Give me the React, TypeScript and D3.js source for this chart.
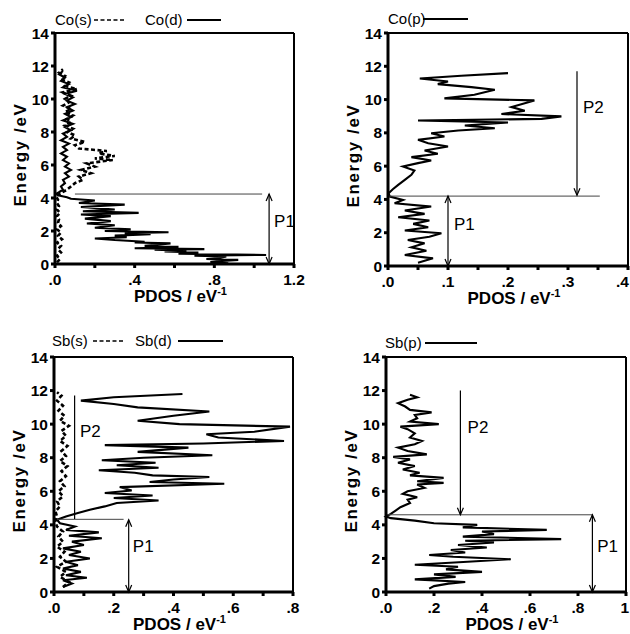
import React from 'react';
import * as d3 from 'd3';

// ---------- data: [energy (eV), PDOS (1/eV)] ----------
const energyTicks = [0, 2, 4, 6, 8, 10, 12, 14];

const coS: [number, number][] = [
  [0.1, .01], [0.3, .025], [0.5, .01], [0.7, .03], [0.9, .015], [1.1, .03], [1.3, .01], [1.5, .035], [1.7, .015], [1.9, .03],
  [2.1, .01], [2.3, .03], [2.5, .015], [2.7, .02], [2.9, .01], [3.1, .025], [3.3, .01], [3.5, .02], [3.7, .01], [3.9, .015],
  [4.1, .005], [4.3, .03], [4.5, .06], [4.7, .08], [4.9, .1], [5.1, .14], [5.3, .12], [5.5, .18], [5.7, .13], [5.9, .2],
  [6.1, .16], [6.3, .29], [6.4, .2], [6.55, .3], [6.7, .22], [6.85, .26], [7.0, .12], [7.2, .1], [7.4, .15], [7.6, .08],
  [7.8, .1], [8.0, .06], [8.2, .09], [8.4, .05], [8.6, .08], [8.8, .06], [9.0, .09], [9.2, .05], [9.4, .08], [9.6, .04],
  [9.8, .07], [10.0, .05], [10.2, .08], [10.4, .04], [10.6, .11], [10.8, .05], [11.0, .07], [11.2, .03], [11.4, .05], [11.6, .02], [11.8, .04],
];

const coD: [number, number][] = [
  [0.05, .87], [0.12, .78], [0.18, .84], [0.25, .92], [0.3, .76], [0.35, .82], [0.45, .86], [0.5, .7], [0.55, 1.06], [0.62, .62],
  [0.7, .72], [0.76, .55], [0.8, .66], [0.86, .5], [0.9, .75], [0.95, .4], [1.0, .55], [1.05, .62], [1.1, .45], [1.15, .5],
  [1.25, .58], [1.3, .4], [1.35, .45], [1.45, .3], [1.55, .2], [1.62, .36], [1.72, .3], [1.8, .48], [1.86, .35], [1.92, .57],
  [2.0, .25], [2.1, .38], [2.2, .2], [2.35, .3], [2.45, .16], [2.6, .28], [2.75, .15], [2.9, .28], [3.0, .13],
  [3.1, .42], [3.2, .14], [3.3, .3], [3.45, .13], [3.6, .35], [3.7, .12], [3.85, .2], [3.95, .08], [4.05, .06], [4.15, .02],
  [4.25, .005], [4.35, .02], [4.5, .04], [4.7, .03], [4.9, .05], [5.1, .04], [5.3, .07], [5.5, .05], [5.7, .08], [5.9, .05],
  [6.1, .07], [6.3, .04], [6.5, .06], [6.7, .03], [6.9, .06], [7.1, .04], [7.3, .07], [7.5, .03], [7.7, .06], [7.9, .04],
  [8.1, .08], [8.3, .05], [8.5, .09], [8.7, .04], [8.9, .08], [9.1, .05], [9.3, .09], [9.5, .06], [9.7, .1], [9.9, .06],
  [10.1, .09], [10.3, .05], [10.5, .11], [10.7, .04], [10.9, .07], [11.1, .03], [11.3, .05], [11.5, .02], [11.7, .04],
];

const coP: [number, number][] = [
  [0.2, .05], [0.46, .075], [0.66, .028], [0.92, .064], [1.12, .039], [1.36, .061], [1.56, .033], [1.76, .069], [1.97, .089], [2.13, .028],
  [2.33, .067], [2.53, .042], [2.73, .069], [2.93, .017], [3.13, .061], [3.33, .028], [3.57, .072], [3.77, .011], [3.97, .025], [4.17, .003],
  [4.37, .001], [4.61, .008], [4.87, .017], [5.17, .028], [5.48, .039], [5.74, .044], [5.98, .025], [6.18, .05], [6.34, .072], [6.54, .039],
  [6.74, .083], [6.94, .061], [7.18, .1], [7.38, .067], [7.58, .05], [7.78, .094], [7.98, .072], [8.14, .117], [8.28, .178], [8.44, .128],
  [8.62, .2], [8.74, .05], [8.84, .256], [8.99, .289], [9.13, .189], [9.33, .228], [9.55, .206], [9.95, .244], [10.07, .094], [10.29, .144],
  [10.59, .178], [10.75, .139], [10.93, .083], [11.09, .1], [11.27, .053], [11.43, .122], [11.59, .2],
];

const sbS: [number, number][] = [
  [0.3, .03], [0.6, .05], [0.9, .02], [1.2, .04], [1.5, .01], [1.8, .04], [2.1, .02], [2.4, .035], [2.7, .01], [3.0, .03],
  [3.3, .015], [3.6, .03], [3.9, .01], [4.2, .005], [4.5, .01], [4.8, .005], [5.1, .02], [5.4, .01], [5.7, .03], [6.0, .015],
  [6.3, .035], [6.6, .02], [6.9, .04], [7.2, .025], [7.5, .045], [7.8, .02], [8.1, .04], [8.4, .025], [8.7, .045], [9.0, .02],
  [9.3, .04], [9.6, .025], [9.9, .05], [10.2, .02], [10.5, .035], [10.8, .015], [11.1, .03], [11.4, .01], [11.7, .025], [11.9, .01],
];

const sbD: [number, number][] = [
  [0.3, .03], [0.5, .06], [0.7, .03], [0.85, .11], [1.0, .04], [1.2, .09], [1.4, .03], [1.6, .08], [1.8, .04], [2.0, .12],
  [2.2, .05], [2.4, .09], [2.6, .03], [2.8, .1], [3.0, .06], [3.2, .16], [3.35, .05], [3.55, .15], [3.7, .04], [3.9, .07],
  [4.1, .02], [4.3, .01], [4.5, .04], [4.7, .08], [4.9, .12], [5.1, .17], [5.3, .21], [5.45, .35], [5.6, .2], [5.75, .33],
  [5.9, .17], [6.05, .26], [6.25, .22], [6.45, .57], [6.55, .32], [6.7, .4], [6.85, .52], [6.95, .33], [7.1, .27], [7.25, .15],
  [7.4, .35], [7.55, .21], [7.7, .34], [7.85, .16], [8.0, .3], [8.15, .53], [8.35, .28], [8.6, .45], [8.75, .17], [8.85, .5],
  [9.0, .77], [9.2, .55], [9.4, .51], [9.55, .67], [9.85, .79], [10.0, .42], [10.2, .28], [10.5, .4], [10.75, .52], [11.0, .28],
  [11.2, .2], [11.4, .09], [11.6, .2], [11.8, .43],
];

const sbP: [number, number][] = [
  [0.2, .18], [0.35, .2], [0.5, .26], [0.6, .33], [0.75, .12], [0.9, .29], [1.05, .2], [1.2, .4], [1.35, .25], [1.5, .3],
  [1.62, .12], [1.8, .34], [1.95, .52], [2.1, .28], [2.2, .18], [2.35, .33], [2.5, .27], [2.65, .42], [2.8, .3], [2.95, .45],
  [3.05, .33], [3.15, .73], [3.3, .32], [3.45, .45], [3.6, .4], [3.7, .67], [3.85, .32], [4.0, .38], [4.1, .2], [4.25, .12],
  [4.4, .02], [4.5, .0], [4.65, .02], [4.85, .04], [5.05, .06], [5.3, .1], [5.5, .09], [5.65, .13], [5.85, .07], [6.0, .09],
  [6.2, .16], [6.4, .13], [6.5, .24], [6.6, .13], [6.8, .24], [6.95, .1], [7.1, .14], [7.3, .07], [7.5, .12], [7.7, .05],
  [7.9, .1], [8.05, .03], [8.2, .17], [8.4, .09], [8.6, .05], [8.8, .12], [9.0, .15], [9.2, .1], [9.45, .12], [9.7, .09],
  [9.85, .06], [10.0, .22], [10.15, .1], [10.35, .13], [10.55, .12], [10.7, .19], [10.85, .1], [11.05, .08], [11.25, .05], [11.45, .09],
  [11.6, .13], [11.75, .1],
];

// tick values per panel
const coSDMajor = [0, 0.4, 0.8, 1.2];
const coSDMinor = [0.2, 0.6, 1.0];
const coPMajor = [0, 0.1, 0.2, 0.3, 0.4];
const coPMinor = [0.05, 0.15, 0.25, 0.35];
const sbSDMajor = [0, 0.2, 0.4, 0.6, 0.8];
const sbSDMinor = [0.1, 0.3, 0.5, 0.7];
const sbPMajor = [0, 0.2, 0.4, 0.6, 0.8, 1];

// annotations (data units)
type HLine = { e: number; v0: number; v1: number };
type Arrow = { v: number; e0: number; e1: number; both: boolean; head: boolean };
type Label = { text: string; v: number; e: number };

const FONT = 'Liberation Sans, Arial, Helvetica, sans-serif';
const W = 630;

const fmt = (v: number) => {
  if (v === 0) return '.0';
  if (v < 1) return String(+v.toFixed(2)).replace(/^0/, '');
  return String(v);
};

type Series = { data: [number, number][]; dashed: boolean };
type LegendItem = { kind: 'text' | 'solid' | 'dash'; dx: number; dx2?: number; text?: string };

interface PanelProps {
  box: { x0: number; x1: number; y0: number; y1: number };
  xMax: number;
  majors: number[];
  minors: number[];
  series: Series[];
  hlines: HLine[];
  arrows: Arrow[];
  labels: Label[];
  legend: LegendItem[];
  legendY: number;
}

function Panel(p: PanelProps) {
  const { x0, x1, y0, y1 } = p.box;
  const x = d3.scaleLinear().domain([0, p.xMax]).range([x0, x1]);
  const y = d3.scaleLinear().domain([0, 14]).range([y1, y0]);
  const line = d3
    .line<[number, number]>()
    .x((d) => x(d[1]))
    .y((d) => y(d[0]));
  const cx = (x0 + x1) / 2;
  const cy = (y0 + y1) / 2;
  return (
    <g>
      {/* frame */}
      <line x1={x0} x2={x1} y1={y0} y2={y0} stroke="#000" strokeWidth={2} />
      <line x1={x1} x2={x1} y1={y0} y2={y1} stroke="#000" strokeWidth={2} />
      {/* data */}
      {p.series.map((s, i) => (
        <path
          key={i}
          d={line(s.data) || ''}
          fill="none"
          stroke="#000"
          strokeWidth={s.dashed ? 2.6 : 2.1}
          strokeDasharray={s.dashed ? '4 2.5' : undefined}
          strokeLinejoin="miter"
          strokeMiterlimit={4}
        />
      ))}
      {/* annotations */}
      {p.hlines.map((h, i) => (
        <line key={i} x1={x(h.v0)} x2={x(h.v1)} y1={y(h.e)} y2={y(h.e)} stroke="#444" strokeWidth={1} />
      ))}
      {p.arrows.map((a, i) => {
        const ax = x(a.v);
        const ya = y(a.e0);
        const yb = y(a.e1);
        const head = (yy: number, dir: number) => (
          <path d={`M${ax - 3},${yy - dir * 7} L${ax},${yy} L${ax + 3},${yy - dir * 7}`} fill="none" stroke="#000" strokeWidth={1.2} />
        );
        const dirB = yb > ya ? 1 : -1;
        return (
          <g key={i}>
            <line x1={ax} x2={ax} y1={ya} y2={yb} stroke="#000" strokeWidth={1.2} />
            {a.head && head(yb, dirB)}
            {a.both && head(ya, -dirB)}
          </g>
        );
      })}
      {p.labels.map((l, i) => (
        <text key={i} x={x(l.v)} y={y(l.e)} fontFamily={FONT} fontSize={17} fill="#000">
          {l.text}
        </text>
      ))}
      {/* axes */}
      <line x1={x0} x2={x0} y1={y0 - 1} y2={y1 + 1} stroke="#000" strokeWidth={3} />
      <line x1={x0 - 1} x2={x1 + 1} y1={y1} y2={y1} stroke="#000" strokeWidth={3} />
      {energyTicks.map((t) => (
        <g key={'y' + t}>
          <line x1={x0 - 4} x2={x0} y1={y(t)} y2={y(t)} stroke="#000" strokeWidth={3} />
          <text x={x0 - 6} y={y(t) + 5.5} textAnchor="end" fontFamily={FONT} fontWeight="bold" fontSize={15.5} fill="#000">
            {t}
          </text>
        </g>
      ))}
      {p.majors.map((t) => {
        const tx = x(t);
        const nearEdge = tx + 9 > W;
        return (
          <g key={'x' + t}>
            <line x1={tx} x2={tx} y1={y1} y2={y1 + 4} stroke="#000" strokeWidth={3} />
            <text
              x={nearEdge ? W - 1 : tx}
              y={y1 + 21}
              textAnchor={nearEdge ? 'end' : 'middle'}
              fontFamily={FONT}
              fontWeight="bold"
              fontSize={15.5}
              fill="#000"
            >
              {fmt(t)}
            </text>
          </g>
        );
      })}
      {p.minors.map((t) => (
        <line key={'m' + t} x1={x(t)} x2={x(t)} y1={y1} y2={y1 + 4} stroke="#000" strokeWidth={3} />
      ))}
      {/* titles */}
      <text x={cx + 6} y={y1 + 38} textAnchor="middle" fontFamily={FONT} fontWeight="bold" fontSize={17} fill="#000">
        PDOS / eV<tspan fontSize={11} dy={-7}>-1</tspan>
      </text>
      <text
        transform={`translate(${x0 - 29},${cy + 6}) rotate(-90)`}
        textAnchor="middle"
        fontFamily={FONT}
        fontWeight="bold"
        fontSize={17}
        letterSpacing={1.6}
        fill="#000"
      >
        Energy /eV
      </text>
      {/* legend */}
      {p.legend.map((l, i) =>
        l.kind === 'text' ? (
          <text key={i} x={x0 + l.dx} y={p.legendY} fontFamily={FONT} fontSize={15} fill="#000">
            {l.text}
          </text>
        ) : (
          <line
            key={i}
            x1={x0 + l.dx}
            x2={x0 + (l.dx2 || 0)}
            y1={p.legendY - 5}
            y2={p.legendY - 5}
            stroke="#000"
            strokeWidth={l.kind === 'dash' ? 1.6 : 2}
            strokeDasharray={l.kind === 'dash' ? '4 2.5' : undefined}
          />
        )
      )}
    </g>
  );
}

export default function App() {
  return (
    <svg width={630} height={634} style={{ position: 'absolute', left: 0, top: 0, background: '#fff' }}>
      <rect width={630} height={634} fill="#fff" />
      <Panel
        box={{ x0: 55, x1: 294, y0: 33, y1: 264 }}
        xMax={1.2}
        majors={coSDMajor}
        minors={coSDMinor}
        series={[
          { data: coS, dashed: true },
          { data: coD, dashed: false },
        ]}
        hlines={[{ e: 4.24, v0: 0.1, v1: 1.04 }]}
        arrows={[{ v: 1.075, e0: 0, e1: 4.24, both: true, head: true }]}
        labels={[{ text: 'P1', v: 1.1, e: 2.24 }]}
        legend={[
          { kind: 'text', dx: 0, text: 'Co(s)' },
          { kind: 'dash', dx: 39, dx2: 70 },
          { kind: 'text', dx: 90, text: 'Co(d)' },
          { kind: 'solid', dx: 132, dx2: 166 },
        ]}
        legendY={25}
      />
      <Panel
        box={{ x0: 388, x1: 628, y0: 33, y1: 266 }}
        xMax={0.4}
        majors={coPMajor}
        minors={coPMinor}
        series={[{ data: coP, dashed: false }]}
        hlines={[{ e: 4.2, v0: 0.0, v1: 0.353 }]}
        arrows={[
          { v: 0.1, e0: 0, e1: 4.2, both: true, head: true },
          { v: 0.315, e0: 11.7, e1: 4.25, both: false, head: true },
        ]}
        labels={[
          { text: 'P1', v: 0.11, e: 2.16 },
          { text: 'P2', v: 0.325, e: 9.2 },
        ]}
        legend={[
          { kind: 'text', dx: 0, text: 'Co(p)' },
          { kind: 'solid', dx: 35, dx2: 80 },
        ]}
        legendY={24}
      />
      <Panel
        box={{ x0: 54, x1: 293, y0: 357, y1: 592 }}
        xMax={0.8}
        majors={sbSDMajor}
        minors={sbSDMinor}
        series={[
          { data: sbS, dashed: true },
          { data: sbD, dashed: false },
        ]}
        hlines={[{ e: 4.33, v0: 0.01, v1: 0.233 }]}
        arrows={[
          { v: 0.25, e0: 0, e1: 4.3, both: true, head: true },
          { v: 0.069, e0: 11.7, e1: 4.35, both: false, head: false },
        ]}
        labels={[
          { text: 'P2', v: 0.087, e: 9.23 },
          { text: 'P1', v: 0.264, e: 2.38 },
        ]}
        legend={[
          { kind: 'text', dx: -2, text: 'Sb(s)' },
          { kind: 'dash', dx: 39, dx2: 71 },
          { kind: 'text', dx: 81, text: 'Sb(d)' },
          { kind: 'solid', dx: 124, dx2: 169 },
        ]}
        legendY={346}
      />
      <Panel
        box={{ x0: 386, x1: 626, y0: 357, y1: 592 }}
        xMax={1}
        majors={sbPMajor}
        minors={[]}
        series={[{ data: sbP, dashed: false }]}
        hlines={[{ e: 4.6, v0: 0.0, v1: 0.86 }]}
        arrows={[
          { v: 0.86, e0: 0, e1: 4.6, both: true, head: true },
          { v: 0.31, e0: 12, e1: 4.6, both: false, head: true },
        ]}
        labels={[
          { text: 'P2', v: 0.34, e: 9.5 },
          { text: 'P1', v: 0.88, e: 2.38 },
        ]}
        legend={[
          { kind: 'text', dx: -1, text: 'Sb(p)' },
          { kind: 'solid', dx: 39, dx2: 91 },
        ]}
        legendY={348}
      />
    </svg>
  );
}
